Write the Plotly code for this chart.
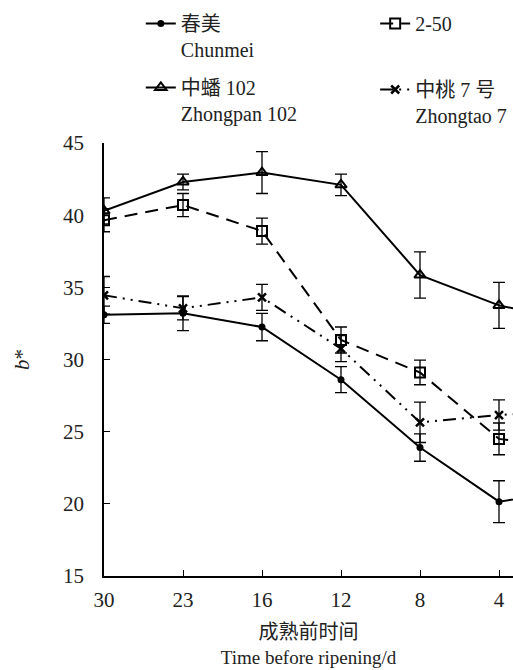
import plotly.graph_objects as go

categories = ["30", "23", "16", "12", "8", "4", "0"]

chunmei = [33.1, 33.2, 32.25, 28.6, 23.9, 20.15, 21.0]
chunmei_err = [0.6, 1.2, 0.95, 0.9, 0.95, 1.45, 1.0]

s250 = [39.65, 40.7, 38.9, 31.35, 29.1, 24.5, 23.9]
s250_err = [0.8, 0.8, 0.9, 0.9, 0.85, 1.1, 1.0]

zhongpan = [40.3, 42.3, 42.95, 42.1, 35.85, 33.75, 32.6]
zhongpan_err = [0.9, 0.55, 1.45, 0.75, 1.6, 1.6, 1.0]

zhongtao = [34.45, 33.55, 34.3, 30.75, 25.65, 26.15, 26.5]
zhongtao_err = [1.3, 0.8, 0.9, 0.9, 1.4, 1.05, 1.0]

names = ["春美<br>Chunmei", "2-50", "中蟠 102<br>Zhongpan 102", "中桃 7 号<br>Zhongtao 7"]

FONT = "Liberation Serif, Noto Sans CJK SC, serif"
TXT = "#222"

series = [
    (names[0], chunmei, chunmei_err, "solid", dict(symbol="circle", size=7, color="black"), "legend"),
    (names[1], s250, s250_err, "13px,8px", dict(symbol="square-open", size=10, color="black", line=dict(width=2, color="black")), "legend2"),
    (names[2], zhongpan, zhongpan_err, "solid", dict(symbol="triangle-up-open", size=10, color="black", line=dict(width=2, color="black")), "legend"),
    (names[3], zhongtao, zhongtao_err, "13px,6px,2px,6px,2px,6px", dict(symbol="x-thin", size=8, color="black", line=dict(width=2.5, color="black")), "legend2"),
]

fig = go.Figure()
for i, (name, vals, err, dash, marker, leg) in enumerate(series):
    fig.add_trace(go.Scatter(
        x=categories, y=vals, name=name, mode="lines+markers",
        line=dict(color="black", width=2, dash=dash),
        marker=marker,
        error_y=dict(type="data", array=err, visible=True, color="black", thickness=1.3, width=6),
        cliponaxis=True, legend=leg, legendgroup="g%d" % i,
    ))

legend_common = dict(
    orientation="v", xanchor="left", yanchor="top",
    font=dict(family=FONT, size=20, color=TXT),
    valign="top", bgcolor="rgba(0,0,0,0)", itemwidth=30,
)

fig.update_layout(
    width=513, height=670,
    margin=dict(l=104, r=0, t=143, b=94),
    paper_bgcolor="white", plot_bgcolor="white",
    font=dict(family=FONT, size=20, color=TXT),
    showlegend=True,
    legend=dict(x=0.09, y=1.321, tracegroupgap=9, **legend_common),
    legend2=dict(x=0.663, y=1.321, tracegroupgap=37, **legend_common),
    xaxis=dict(
        type="category", range=[0, 409 / 79.0],
        showline=True, linecolor="black", linewidth=1.5, mirror=False,
        ticks="inside", ticklen=6, tickcolor="black", tickwidth=1.3,
        showgrid=False, zeroline=False, ticklabelstandoff=4,
        tickfont=dict(family=FONT, size=21, color=TXT),
        title=dict(
            text='<span style="font-size:20px">成熟前时间</span><br>Time before ripening/d',
            font=dict(family=FONT, size=19, color=TXT), standoff=15,
        ),
    ),
    yaxis=dict(
        range=[15, 45], dtick=5, tick0=15,
        showline=True, linecolor="black", linewidth=1.5,
        ticks="inside", ticklen=6, tickcolor="black", tickwidth=1.3,
        showgrid=False, zeroline=False, ticklabelstandoff=14,
        tickfont=dict(family=FONT, size=21, color=TXT),
        title=dict(text="<i>b</i>*", font=dict(family=FONT, size=21, color=TXT), standoff=28),
    ),
)

fig.write_html("out.html")
